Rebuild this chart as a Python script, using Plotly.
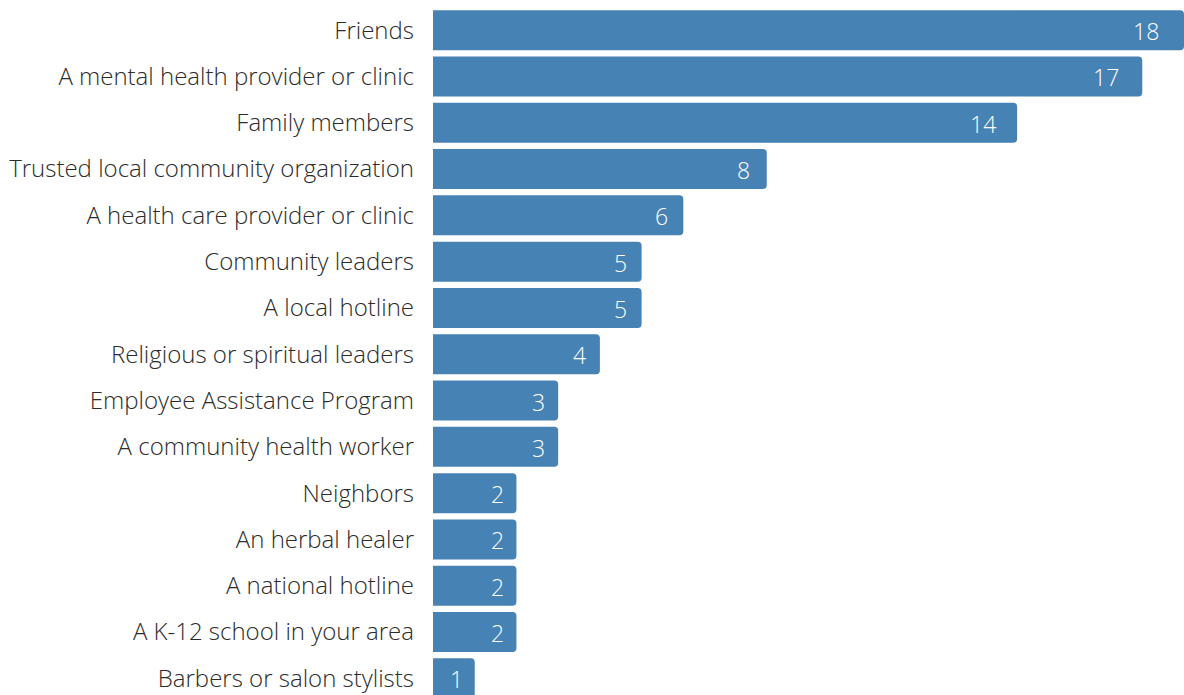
import plotly.graph_objects as go

categories = [
    "Friends",
    "A mental health provider or clinic",
    "Family members",
    "Trusted local community organization",
    "A health care provider or clinic",
    "Community leaders",
    "A local hotline",
    "Religious or spiritual leaders",
    "Employee Assistance Program",
    "A community health worker",
    "Neighbors",
    "An herbal healer",
    "A national hotline",
    "A K-12 school in your area",
    "Barbers or salon stylists",
]
values = [18, 17, 14, 8, 6, 5, 5, 4, 3, 3, 2, 2, 2, 2, 1]

FONT = "Open Sans"
LABEL_POS = 0.982  # value labels sit just inside the bar end

fig = go.Figure(
    go.Bar(
        x=values,
        y=categories,
        orientation="h",
        marker=dict(color="#4682B4", line=dict(width=0)),
        hoverinfo="skip",
    )
)

for c, v in zip(categories, values):
    fig.add_annotation(
        x=v * LABEL_POS, y=c, text=str(v), showarrow=False,
        xanchor="right", xshift=-9, yshift=-1,
        font=dict(family=FONT, size=23, color="white", weight=300),
    )

fig.update_layout(
    width=1184, height=695,
    margin=dict(l=433, r=0, t=7, b=0),
    plot_bgcolor="white", paper_bgcolor="white",
    bargap=0.136,
    barcornerradius=4,
    showlegend=False,
    font=dict(family=FONT, size=24, color="#2b2b2b", weight=300),
)
fig.update_xaxes(range=[0, 18], visible=False, showgrid=False, zeroline=False)
fig.update_yaxes(
    type="category", categoryorder="array", categoryarray=categories,
    range=[14.36, -0.5], showgrid=False, zeroline=False, showline=False,
    ticks="", ticklabelstandoff=18, automargin=False,
    tickfont=dict(family=FONT, size=24, color="#2b2b2b", weight=300),
)

fig.write_html("out.html")
